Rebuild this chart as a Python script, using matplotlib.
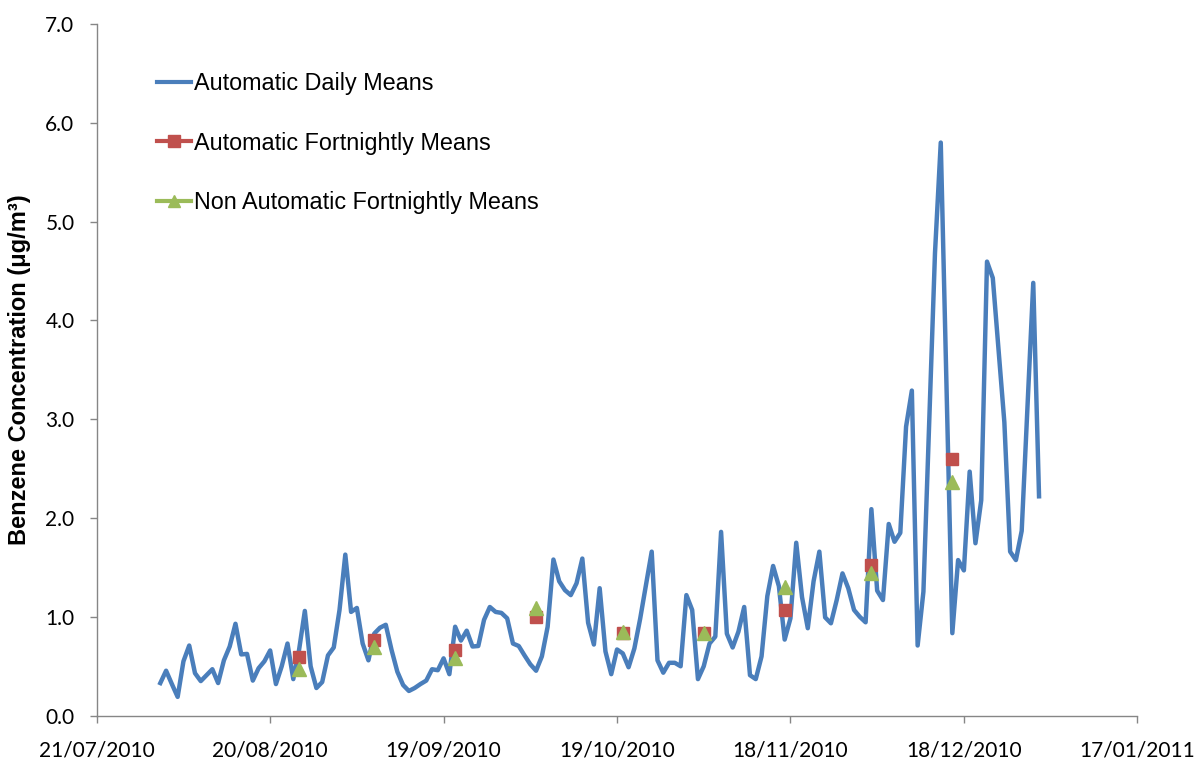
import pandas as pd
import matplotlib
matplotlib.use("Agg")
import matplotlib.pyplot as plt
import matplotlib.dates as mdates
from matplotlib.ticker import FormatStrFormatter

# daily means, 01/08/2010 - 31/12/2010
start_day = "2010-08-01"
daily_means = [
    0.33, 0.455, 0.32, 0.19, 0.55, 0.71, 0.43, 0.35, 0.41, 0.47,
    0.33, 0.56, 0.70, 0.93, 0.62, 0.625, 0.355, 0.48, 0.55, 0.66,
    0.32, 0.50, 0.73, 0.37, 0.665, 1.06, 0.50, 0.28, 0.34, 0.61,
    0.69, 1.07, 1.63, 1.05, 1.09, 0.73, 0.56, 0.83, 0.89, 0.92,
    0.665, 0.445, 0.31, 0.25, 0.28, 0.32, 0.355, 0.47, 0.46, 0.58,
    0.42, 0.90, 0.76, 0.86, 0.70, 0.705, 0.97, 1.10, 1.05, 1.04,
    0.985, 0.73, 0.705, 0.61, 0.52, 0.455, 0.60, 0.90, 1.58, 1.36,
    1.27, 1.22, 1.34, 1.59, 0.94, 0.72, 1.29, 0.65, 0.42, 0.67,
    0.63, 0.49, 0.68, 0.98, 1.32, 1.66, 0.56, 0.435, 0.535, 0.535,
    0.50, 1.22, 1.07, 0.37, 0.50, 0.73, 0.80, 1.86, 0.83, 0.69,
    0.85, 1.10, 0.41, 0.37, 0.60, 1.21, 1.515, 1.31, 0.77, 0.985,
    1.75, 1.20, 0.885, 1.36, 1.66, 0.995, 0.935, 1.17, 1.44, 1.29,
    1.07, 1.00, 0.945, 2.09, 1.265, 1.17, 1.94, 1.76, 1.85, 2.925,
    3.29, 0.71, 1.255, 2.97, 4.68, 5.80, 3.32, 0.835, 1.575, 1.47,
    2.47, 1.745, 2.18, 4.595, 4.43, 3.70, 2.97, 1.66, 1.575, 1.87,
    3.12, 4.38, 2.22,
]

# fortnightly means
fortnight_dates = ["2010-08-25", "2010-09-07", "2010-09-21", "2010-10-05",
                   "2010-10-20", "2010-11-03", "2010-11-17", "2010-12-02",
                   "2010-12-16"]
auto_fortnightly = [0.59, 0.77, 0.665, 1.00, 0.84, 0.835, 1.07, 1.52, 2.60]
non_auto_fortnightly = [0.47, 0.69, 0.58, 1.09, 0.85, 0.84, 1.30, 1.44, 2.36]

x_start = "2010-07-21"
x_end = "2011-01-17"

days = pd.date_range(start_day, periods=len(daily_means), freq="D")
f_dates = pd.to_datetime(fortnight_dates)

fig = plt.figure(figsize=(12.03, 7.66), dpi=100)
ax = fig.add_axes([0.0804, 0.0657, 0.8650, 0.9030])

ax.plot(days, daily_means, color="#4A7EBB", lw=3.2, solid_joinstyle="round",
        label="Automatic Daily Means", zorder=2)
ax.plot(f_dates, auto_fortnightly, ls="none", marker="s", ms=8.6,
        color="#C0504D", mec="#C0504D", zorder=3)
ax.plot(f_dates, non_auto_fortnightly, ls="none", marker="^", ms=9.5,
        color="#9BBB59", mec="#9BBB59", zorder=4)

# legend handles drawn as line + marker like the excel legend
h1, = ax.plot([], [], color="#4A7EBB", lw=3, label="Automatic Daily Means")
h2, = ax.plot([], [], color="#C0504D", lw=3, marker="s", ms=8,
              label="Automatic Fortnightly Means")
h3, = ax.plot([], [], color="#9BBB59", lw=3, marker="^", ms=9,
              label="Non Automatic Fortnightly Means")
leg = fig.legend(handles=[h1, h2, h3], loc="upper left",
                 bbox_to_anchor=(157 / 1203, 1 - 72 / 766),
                 frameon=False, borderpad=0, borderaxespad=0,
                 handlelength=1.45, handletextpad=0.12, labelspacing=1.57,
                 prop={"family": "Liberation Sans", "size": 16.8})

# axes
start = pd.Timestamp(x_start)
ticks = [start + pd.Timedelta(days=30 * i) for i in range(7)]
ax.set_xlim(start, pd.Timestamp(x_end))
ax.set_xticks(ticks)
ax.xaxis.set_major_formatter(mdates.DateFormatter("%d/%m/%Y"))
ax.set_ylim(0, 7)
ax.set_yticks([0, 1, 2, 3, 4, 5, 6, 7])
ax.yaxis.set_major_formatter(FormatStrFormatter("%.1f"))

for s in ["top", "right"]:
    ax.spines[s].set_visible(False)
for s in ["left", "bottom"]:
    ax.spines[s].set_color("#868686")
    ax.spines[s].set_linewidth(1)

ax.tick_params(axis="both", direction="out", length=5, width=1,
               color="#868686", labelsize=15)
ax.tick_params(axis="y", pad=11)
ax.tick_params(axis="x", pad=13)
for lab in ax.get_xticklabels() + ax.get_yticklabels():
    lab.set_family("Lato")

ax.set_ylabel("Benzene Concentration (μg/m³)", fontsize=17,
              fontweight="bold", family="Liberation Sans", labelpad=10)

fig.savefig("out.png", dpi=100)
